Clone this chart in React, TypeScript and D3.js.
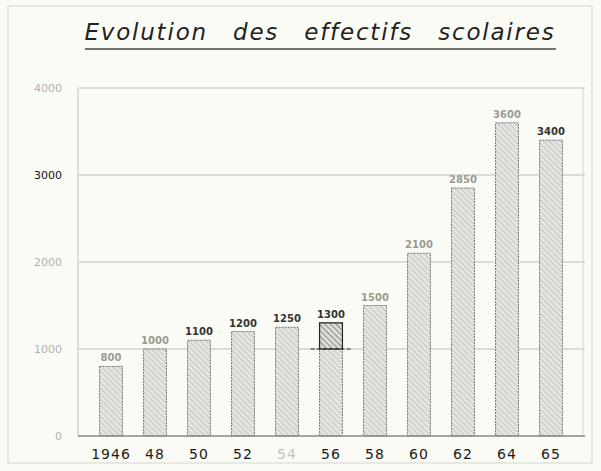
import React, { useRef, useEffect } from 'react';
import * as d3 from 'd3';

const years = ['1946', '48', '50', '52', '54', '56', '58', '60', '62', '64', '65'];
const pupils = [800, 1000, 1100, 1200, 1250, 1300, 1500, 2100, 2850, 3600, 3400];
const yTicks = [0, 1000, 2000, 3000, 4000];

const App = () => {
  const svgRef = useRef(null);

  useEffect(() => {
    const width = 601;
    const height = 471;
    const left = 78, right = 585, top = 88, bottom = 436;

    const svg = d3.select(svgRef.current);
    svg.selectAll('*').remove();
    svg.attr('width', width).attr('height', height);

    // paper background and faint scan frame
    svg.append('rect').attr('width', width).attr('height', height).attr('fill', '#fbfbf6');
    svg.append('rect')
      .attr('x', 8).attr('y', 6).attr('width', 584).attr('height', 457)
      .attr('fill', 'none').attr('stroke', '#e2e2dc').attr('stroke-width', 1.5);

    // hatch pattern for the bars
    const defs = svg.append('defs');
    const pat = defs.append('pattern')
      .attr('id', 'hatch')
      .attr('patternUnits', 'userSpaceOnUse')
      .attr('width', 4).attr('height', 4)
      .attr('patternTransform', 'rotate(-45)');
    pat.append('rect').attr('width', 4).attr('height', 4).attr('fill', '#e4e4e0');
    pat.append('line').attr('x1', 0).attr('y1', 0).attr('x2', 0).attr('y2', 4)
      .attr('stroke', '#a8a8a4').attr('stroke-width', 1);

    const patDark = defs.append('pattern')
      .attr('id', 'hatchDark')
      .attr('patternUnits', 'userSpaceOnUse')
      .attr('width', 4).attr('height', 4)
      .attr('patternTransform', 'rotate(-45)');
    patDark.append('rect').attr('width', 4).attr('height', 4).attr('fill', '#dcdcd8');
    patDark.append('line').attr('x1', 0).attr('y1', 0).attr('x2', 0).attr('y2', 4)
      .attr('stroke', '#555').attr('stroke-width', 1.2);

    // title
    svg.append('text')
      .attr('x', 320).attr('y', 40)
      .attr('text-anchor', 'middle')
      .style('font-family', '"DejaVu Sans", sans-serif')
      .style('font-style', 'italic')
      .style('font-size', '23px')
      .style('letter-spacing', '1.8px')
      .style('word-spacing', '16px')
      .attr('fill', '#222')
      .text('Evolution des effectifs scolaires');
    svg.append('line')
      .attr('x1', 85).attr('x2', 556).attr('y1', 49).attr('y2', 49)
      .attr('stroke', '#444').attr('stroke-width', 1.5);

    const x = d3.scaleBand()
      .domain(years)
      .range([89, 573])
      .paddingInner(0.48)
      .paddingOuter(0.24);

    const y = d3.scaleLinear().domain([0, 4000]).range([bottom, top]);

    // grid lines
    svg.append('g')
      .selectAll('line')
      .data(yTicks.filter(d => d > 0))
      .enter()
      .append('line')
      .attr('x1', left).attr('x2', right)
      .attr('y1', d => y(d)).attr('y2', d => y(d))
      .attr('stroke', '#bdbdb8').attr('stroke-width', 1);

    // left and right edges of the plot
    svg.append('line').attr('x1', left).attr('x2', left).attr('y1', top).attr('y2', bottom)
      .attr('stroke', '#c4c4c0');
    svg.append('line').attr('x1', right - 2).attr('x2', right - 2).attr('y1', top).attr('y2', bottom)
      .attr('stroke', '#d4d4d0');

    // y tick labels
    svg.append('g')
      .selectAll('text')
      .data(yTicks)
      .enter()
      .append('text')
      .attr('x', 62).attr('y', d => y(d) + 4)
      .attr('text-anchor', 'end')
      .style('font-family', '"DejaVu Sans", sans-serif')
      .style('font-size', '11px')
      .attr('fill', d => (d === 3000 ? '#111' : '#b0b0aa'))
      .text(d => d);

    // bars
    svg.append('g')
      .selectAll('rect')
      .data(pupils)
      .enter()
      .append('rect')
      .attr('x', (d, i) => x(years[i]))
      .attr('y', d => y(d))
      .attr('width', x.bandwidth())
      .attr('height', d => bottom - y(d))
      .attr('fill', 'url(#hatch)')
      .attr('stroke', '#777')
      .attr('stroke-width', 1)
      .attr('stroke-dasharray', '2,1');

    // dark top segment on the 56 bar
    const i56 = years.indexOf('56');
    svg.append('rect')
      .attr('x', x('56')).attr('y', y(pupils[i56]))
      .attr('width', x.bandwidth()).attr('height', y(1000) - y(pupils[i56]))
      .attr('fill', 'url(#hatchDark)').attr('stroke', '#222').attr('stroke-width', 1.2);
    svg.append('line')
      .attr('x1', x('56') - 9).attr('x2', x('56') + x.bandwidth() + 10)
      .attr('y1', y(1000)).attr('y2', y(1000))
      .attr('stroke', '#222').attr('stroke-width', 1.2).attr('stroke-dasharray', '4,2');

    // baseline
    svg.append('line').attr('x1', left).attr('x2', right).attr('y1', bottom).attr('y2', bottom)
      .attr('stroke', '#888').attr('stroke-width', 1.5);

    // value labels
    const darkValues = ['50', '52', '54', '56', '65'];
    svg.append('g')
      .selectAll('text')
      .data(pupils)
      .enter()
      .append('text')
      .attr('x', (d, i) => x(years[i]) + x.bandwidth() / 2)
      .attr('y', d => y(d) - 5)
      .attr('text-anchor', 'middle')
      .style('font-family', '"DejaVu Sans", sans-serif')
      .style('font-size', '10px')
      .style('font-weight', 'bold')
      .attr('fill', (d, i) => (darkValues.includes(years[i]) ? '#333' : '#9a9a94'))
      .text(d => d);

    // year labels
    svg.append('g')
      .selectAll('text')
      .data(years)
      .enter()
      .append('text')
      .attr('x', d => x(d) + x.bandwidth() / 2)
      .attr('y', 459)
      .attr('text-anchor', 'middle')
      .style('font-family', '"DejaVu Sans", sans-serif')
      .style('font-size', '14px')
      .style('letter-spacing', '1px')
      .attr('fill', d => (d === '54' ? '#c4c4be' : '#1a1a1a'))
      .text(d => d);
  }, []);

  return <svg ref={svgRef} style={{ position: 'absolute', left: 0, top: 0 }}></svg>;
};

export default App;
